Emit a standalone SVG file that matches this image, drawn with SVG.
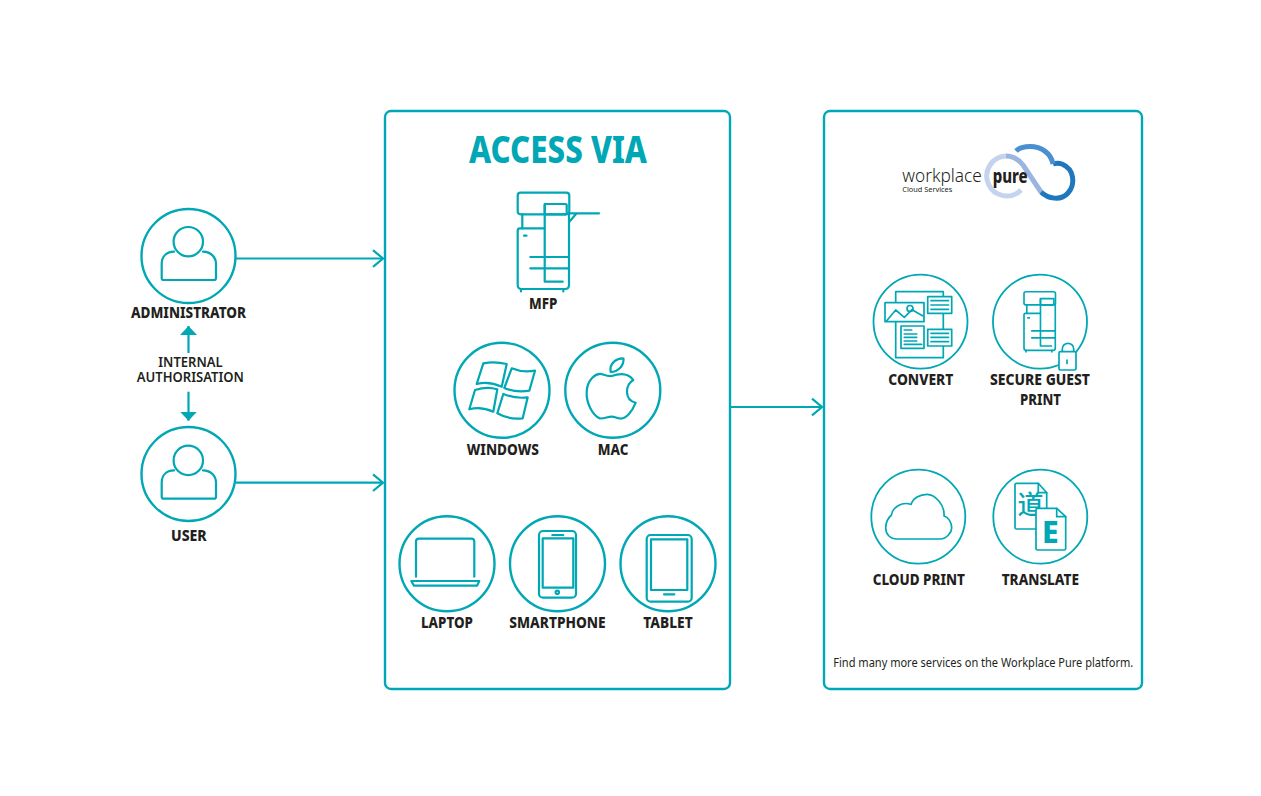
<svg xmlns="http://www.w3.org/2000/svg" width="1261" height="796" viewBox="0 0 1261 796">
<style>
.t{font-family:"Noto Sans","Open Sans",sans-serif;font-weight:800;font-size:15px;fill:#231f20}
.m{font-weight:600;font-size:14.500px}
.h{font-size:37px;fill:#00a7b5}
.panel{fill:#fff;stroke:#00a7b5;stroke-width:2.400}
.ln{fill:none;stroke:#00a7b5;stroke-width:2.200;stroke-linecap:round;stroke-linejoin:round}
.th{stroke-width:1.700}
.c{fill:#fff;stroke:#00a7b5;stroke-width:2.400}
.c2{fill:#fff;stroke:#00a7b5;stroke-width:1.800}
.w{fill:#fff}
.conn{fill:none;stroke:#00a7b5;stroke-width:2.200}
</style>
<defs>
<marker id="chev" markerUnits="userSpaceOnUse" markerWidth="14" markerHeight="20" refX="11" refY="10" orient="auto">
<path d="M1,1.700 L11,10 L1,18.300" fill="none" stroke="#00a7b5" stroke-width="2.200"/>
</marker>
<marker id="tri" markerUnits="userSpaceOnUse" markerWidth="18" markerHeight="18" refX="9" refY="9" orient="auto">
<path d="M0,0.500 L9,9 L0,17.500 Z" fill="#00a7b5"/>
</marker>
<g id="person">
<circle cx="188.300" cy="241.700" r="14.700"/>
<path d="M174,251.700 C166,252 161.700,257 161.700,264 V278 q0,2 2,2 H214 q2,0 2,-2 V264 C216,257 211,252 203,251.700"/>
</g>
<g id="mfp">
<rect x="517.700" y="192.700" width="51.600" height="21.600" rx="3"/>
<rect x="544.700" y="204" width="22" height="10.300" rx="1"/>
<path d="M544.700,204 V281.700 H562.700"/>
<path d="M544.700,228.300 H520 q-2.300,0 -2.300,2.300 V285 q0,4 4,4 H565 q4,0 4,-4 V214.300"/>
<path d="M522.300,214.300 V228.300"/>
<path d="M530.300,257 H568.300 M530.300,268.300 H568.300 M524,235.700 H526.500 M521,289 V291.500 M563.300,289 V291.500"/>
</g>
</defs>

<rect width="1261" height="796" fill="#fff"/>

<g id="connectors">
<path class="conn" d="M236,258.500 H383" marker-end="url(#chev)"/>
<path class="conn" d="M236,482.700 H383" marker-end="url(#chev)"/>
<path class="conn" d="M731,407 H822" marker-end="url(#chev)"/>
<path class="conn" d="M188.500,353 V326" marker-end="url(#tri)"/>
<path class="conn" d="M188.500,391.700 V420.700" marker-end="url(#tri)"/>
</g>

<g id="panel-access">
<rect class="panel" x="385" y="111" width="345" height="578" rx="6"/>
<text class="t h" x="469" y="162.700" textLength="178" lengthAdjust="spacingAndGlyphs">ACCESS VIA</text>
</g>
<g id="panel-services">
<rect class="panel" x="824" y="111" width="318" height="578" rx="6"/>
<text class="t" style="font-weight:400;font-size:13px" x="833.300" y="666.700" textLength="300" lengthAdjust="spacingAndGlyphs">Find many more services on the Workplace Pure platform.</text>
</g>

<g id="administrator">
<circle class="c" cx="188.500" cy="256" r="47"/>
<use href="#person" class="ln"/>
<text class="t" x="131" y="318.300" textLength="115" lengthAdjust="spacingAndGlyphs">ADMINISTRATOR</text>
</g>
<g id="authorisation">
<text class="t m" x="158.300" y="366.700" textLength="64.400" lengthAdjust="spacingAndGlyphs">INTERNAL</text>
<text class="t m" x="136.700" y="381.700" textLength="107.300" lengthAdjust="spacingAndGlyphs">AUTHORISATION</text>
</g>
<g id="user">
<circle class="c" cx="188.500" cy="474" r="47"/>
<use href="#person" class="ln" y="218.700"/>
<text class="t" x="171" y="540.700" textLength="35.700" lengthAdjust="spacingAndGlyphs">USER</text>
</g>

<g id="mfp-node" class="ln">
<use href="#mfp"/>
<path d="M569.300,213.300 H599 M569.300,221.700 L576.700,213.300"/>
<text class="t" style="stroke:none" x="529" y="308.500" textLength="28.300" lengthAdjust="spacingAndGlyphs">MFP</text>
</g>

<g id="windows">
<circle class="c" cx="502" cy="390.300" r="47.500"/>
<g class="ln">
<path d="M483.300,363.300 Q495,361 506.700,364 L501.700,386.700 Q489,381 476.700,384 Z"/>
<path d="M511.700,368.300 Q523,373 535,370.700 L529.300,390.700 Q516,393 504.300,388 Z"/>
<path d="M475,390 Q487,386 497.300,389.300 L493.300,411.700 Q481,406 469.300,409.300 Z"/>
<path d="M503.300,394 Q516,399 527.700,397.300 L522.700,418.300 Q509,420 497.300,413.300 Z"/>
</g>
<text class="t" x="466.700" y="454.500" textLength="72.300" lengthAdjust="spacingAndGlyphs">WINDOWS</text>
</g>
<g id="mac">
<circle class="c" cx="612.800" cy="390.300" r="47.500"/>
<g class="ln">
<path d="M611.700,376 C620,373 628,373 633.300,380 C625,385 624,400 635.700,402.700 C632,412 626,419 620,418.500 C616,418 615,416.700 611.700,416.700 C607,416.700 606,418.500 600,418.500 C592,415 586,402 586.700,392 C587,380 596,372 603,374.500 C606,375.500 609,376.500 611.700,376 Z"/>
<path d="M610.700,372 C609,363 617,358 623.500,358.500 C624,366 618,372 610.700,372 Z"/>
</g>
<text class="t" x="597.700" y="454.500" textLength="30.600" lengthAdjust="spacingAndGlyphs">MAC</text>
</g>

<g id="laptop">
<circle class="c" cx="447" cy="563.800" r="47.500"/>
<g class="ln">
<path d="M416,576.700 V541.700 q0,-3 3,-3 H471.300 q3,0 3,3 V576.700"/>
<path d="M411.300,581 H479.300 L477,585.700 H414 Z"/>
</g>
<text class="t" x="421" y="628" textLength="52" lengthAdjust="spacingAndGlyphs">LAPTOP</text>
</g>
<g id="smartphone">
<circle class="c" cx="557.500" cy="563.800" r="47.500"/>
<g class="ln">
<rect x="539" y="531" width="37" height="66.700" rx="4"/>
<rect x="542.700" y="538.300" width="30.600" height="49.400"/>
<path d="M552.300,535 H563.300"/>
<circle cx="557.300" cy="592.300" r="1.700"/>
</g>
<text class="t" x="509.300" y="628" textLength="96.400" lengthAdjust="spacingAndGlyphs">SMARTPHONE</text>
</g>
<g id="tablet">
<circle class="c" cx="668" cy="563.800" r="47.500"/>
<g class="ln">
<rect x="646.700" y="535" width="45" height="66.700" rx="4"/>
<rect x="651" y="539.300" width="36.300" height="50.700"/>
<path d="M664,594.300 H674.300"/>
</g>
<text class="t" x="643.300" y="628" textLength="49.400" lengthAdjust="spacingAndGlyphs">TABLET</text>
</g>

<g id="logo">
<g fill="none" stroke-width="5">
<path d="M1021,190 A20,20 0 1 1 1006,156" stroke="#c5d4ee"/>
<path d="M1006,156 C1014,156 1019,160 1023,165 L1041,192" stroke="#9ab6e0"/>
<path d="M1041,192 C1048,199 1061,201 1068,193 C1076,184 1074,169 1062,164 C1059,163 1056,163 1053,164" stroke="#1f77bd"/>
<path d="M1053,164 C1051,153 1041,146.500 1030,146.500 C1024,146.500 1019,148 1016,151" stroke="#4a8fd0"/>
</g>
<text x="902.300" y="181.700" textLength="79.500" lengthAdjust="spacingAndGlyphs" style="font-family:'Noto Sans',sans-serif;font-size:19px;font-weight:300;fill:#231f20">workplace</text>
<text x="992.700" y="183" textLength="35" lengthAdjust="spacingAndGlyphs" style="font-family:'Noto Sans',sans-serif;font-size:19px;font-weight:800;fill:#231f20">pure</text>
<text x="902.300" y="191.700" textLength="50" lengthAdjust="spacingAndGlyphs" style="font-family:'Noto Sans',sans-serif;font-size:7.500px;fill:#231f20">Cloud Services</text>
</g>

<g id="convert">
<circle class="c2" cx="920.500" cy="321.700" r="47"/>
<g class="ln th">
<rect x="895.700" y="291.700" width="47.600" height="66"/>
<rect class="w" x="885" y="302.700" width="39" height="19"/>
<path d="M886.700,320.700 L895.700,310 L904.300,317.300 L912,309.700 L923,316"/>
<circle cx="910" cy="308.500" r="3"/>
<rect class="w" x="927.700" y="296.700" width="24" height="16.600"/>
<path d="M931,300.700 H948.500 M931,305 H948.500 M931,309.300 H948.500"/>
<rect class="w" x="901" y="326" width="23" height="22.300"/>
<path d="M904.300,330 H911.700 M904.300,334 H916.700 M904.300,337.300 H916.700 M904.300,341 H916.700 M904.300,344.300 H921.700"/>
<rect class="w" x="927.700" y="329.300" width="24" height="16.700"/>
<path d="M931,333.300 H948.500 M931,337.300 H948.500 M931,341.700 H948.500"/>
</g>
<text class="t" x="888.300" y="384.700" textLength="65" lengthAdjust="spacingAndGlyphs">CONVERT</text>
</g>

<g id="secure-guest-print">
<circle class="c2" cx="1040" cy="321.700" r="47"/>
<g class="ln" style="stroke-width:2.700" transform="translate(1024,291.700) scale(0.61) translate(-517.700,-192.700)">
<use href="#mfp"/>
</g>
<g class="ln th">
<path d="M1062.300,351.700 V349 a5.700,5.700 0 0 1 11.400,0 V351.700"/>
<rect class="w" x="1059" y="351.700" width="17" height="18.300" rx="1.500"/>
<path d="M1067,360 V363.500"/>
</g>
<text class="t" x="990" y="385.300" textLength="100" lengthAdjust="spacingAndGlyphs">SECURE GUEST</text>
<text class="t" x="1020" y="404.500" textLength="41" lengthAdjust="spacingAndGlyphs">PRINT</text>
</g>

<g id="cloud-print">
<circle class="c2" cx="918.300" cy="516.700" r="47"/>
<path class="ln th" d="M897,539 H940 C947,539 951.700,532 951.700,528 C951.700,522 948,517 944,516 C945,505 935,494.300 927,494.300 C920,494.300 913,498 911,504.500 C902,501 892,508 891.500,515 C888,518 885.700,523 885.700,528 C885.700,534 890,539 897,539 Z"/>
<text class="t" x="872.700" y="584.500" textLength="92.300" lengthAdjust="spacingAndGlyphs">CLOUD PRINT</text>
</g>

<g id="translate">
<circle class="c2" cx="1040.300" cy="516.700" r="47"/>
<g class="ln th">
<path class="w" d="M1038.300,483.300 H1016.500 q-1.500,0 -1.500,1.500 V527.500 q0,1.500 1.500,1.500 H1045 q1.700,0 1.700,-1.500 V492.700 Z"/>
<path d="M1038.300,483.300 V492.700 H1046.700"/>
</g>
<text x="1030.500" y="514" text-anchor="middle" style="font-family:'Noto Sans CJK SC','Noto Sans CJK JP',sans-serif;font-size:26px;font-weight:500;fill:#00a7b5">道</text>
<g class="ln th">
<path class="w" d="M1056.700,508.300 H1037.500 q-1.500,0 -1.500,1.500 V548.500 q0,1.500 1.500,1.500 H1064 q1.700,0 1.700,-1.500 V516.700 Z"/>
<path d="M1056.700,508.300 V516.700 H1065.700"/>
</g>
<text x="1050.300" y="542.500" text-anchor="middle" style="font-family:'Noto Sans',sans-serif;font-size:30px;font-weight:800;fill:#00a7b5">E</text>
<text class="t" x="1001.700" y="584.500" textLength="77.300" lengthAdjust="spacingAndGlyphs">TRANSLATE</text>
</g>
</svg>
